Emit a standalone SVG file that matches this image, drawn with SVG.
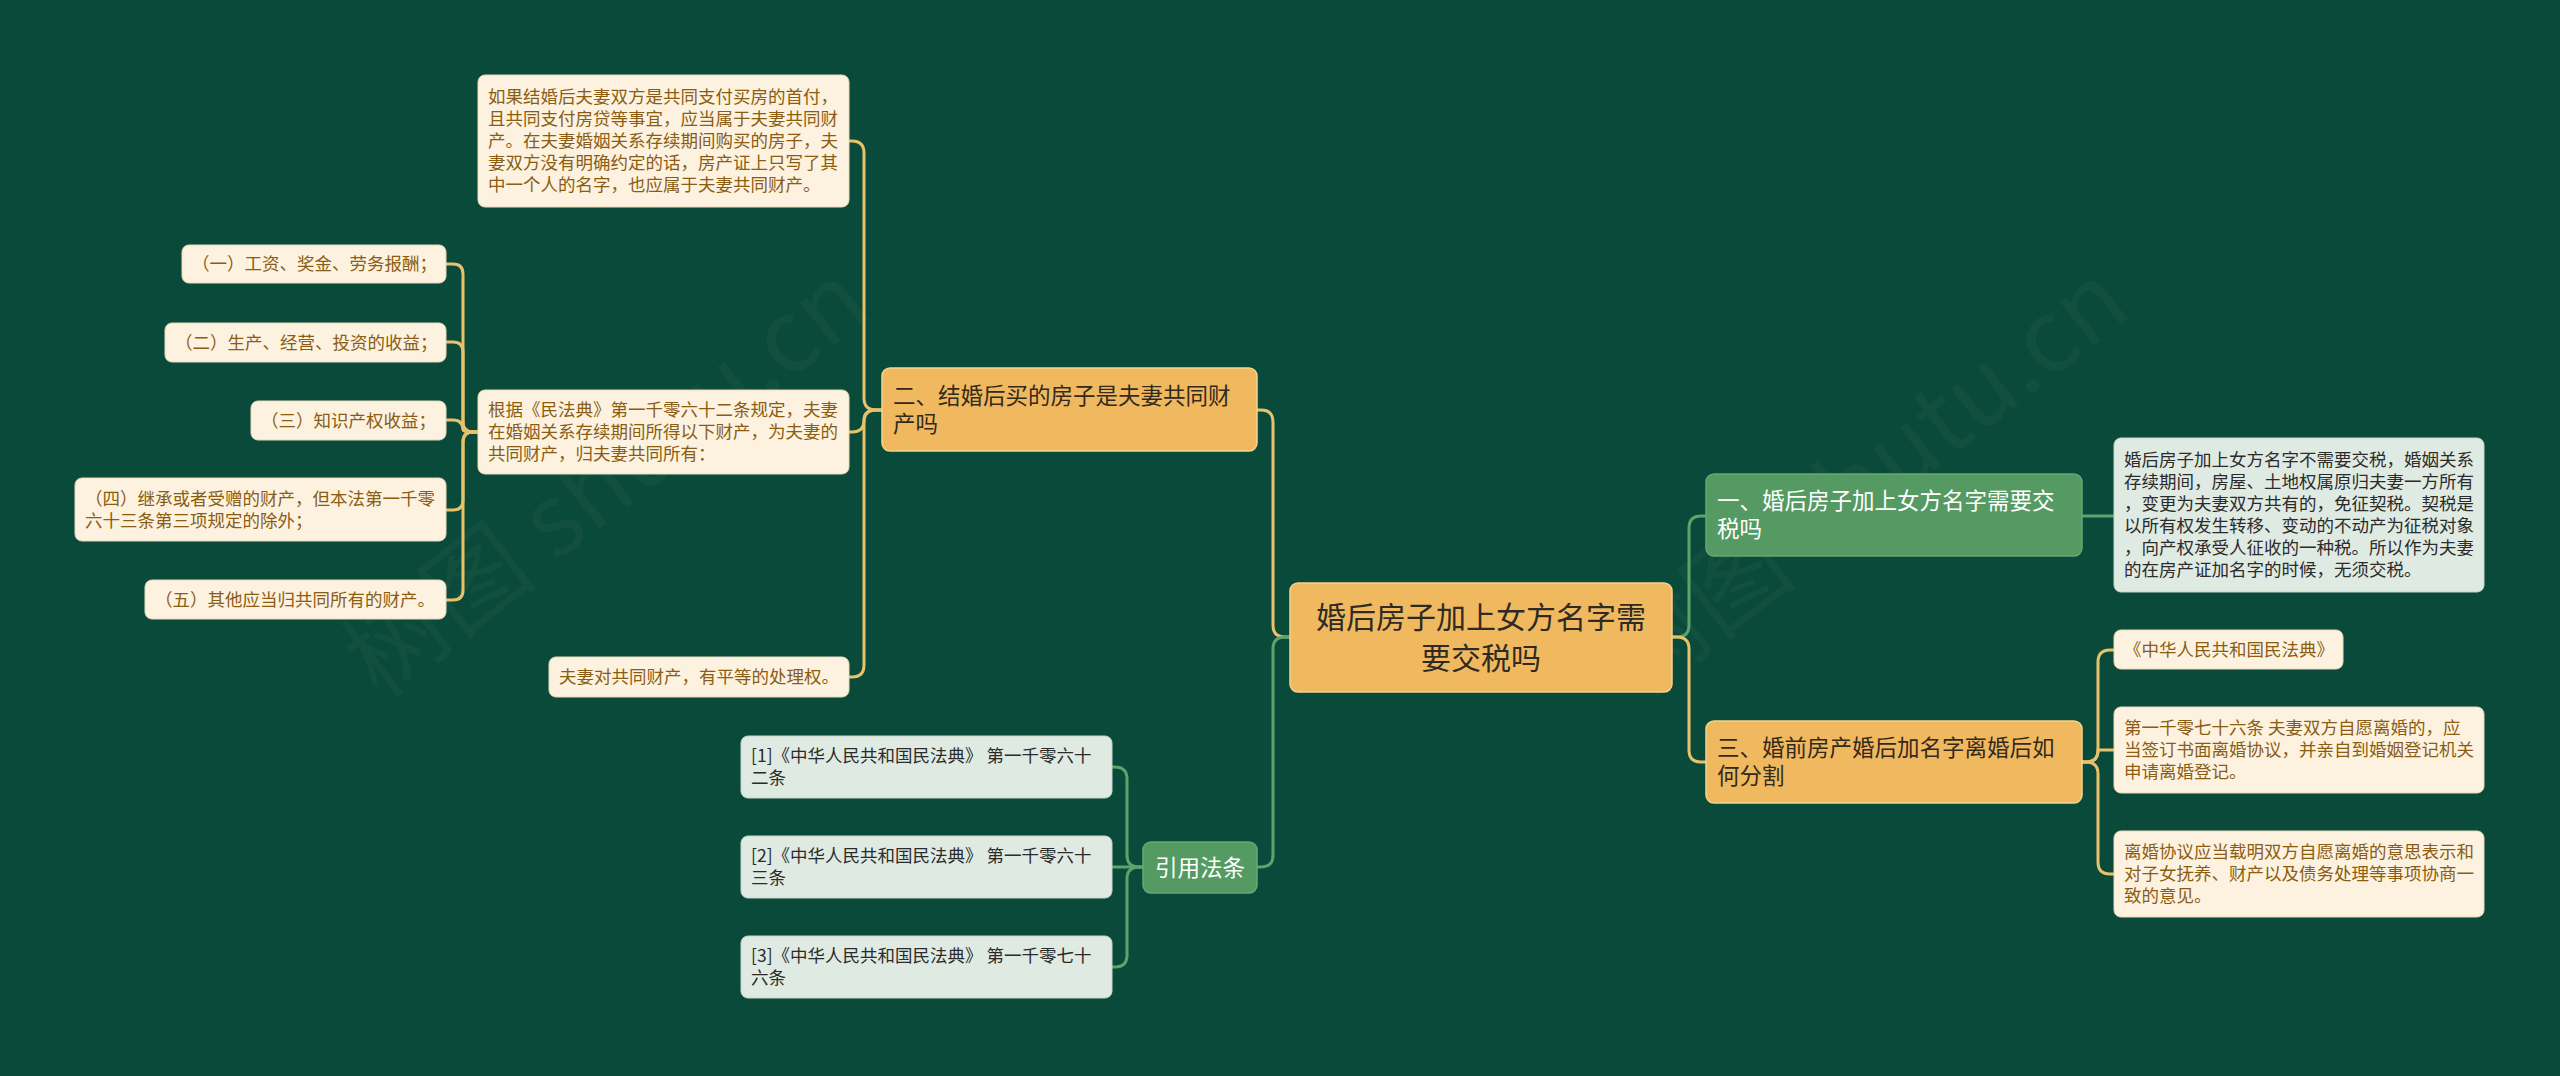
<svg xmlns="http://www.w3.org/2000/svg" width="2560" height="1076" viewBox="0 0 2560 1076">
<style>
text{font-family:"Noto Sans CJK SC","Noto Sans",sans-serif}
.gold{fill:none;stroke:#e8c26a;stroke-width:3}
.grn{fill:none;stroke:#5ca36c;stroke-width:3}
.orange{fill:#f0b95f;stroke:#f6d38a;stroke-width:1.5}
.l2g{fill:#559a63;stroke:#67a873;stroke-width:1.5}
.cream{fill:#fdf2e0;stroke:#e9d9b8;stroke-width:1}
.lgreen{fill:#dfeae2;stroke:#c6d6ca;stroke-width:1}
.tc{font-size:17.5px;fill:#8a5d12}
.tg{font-size:17.5px;fill:#2b2b2b}
.t2{font-size:22.5px;fill:#332a1c}
.t2w{font-size:22.5px;fill:#ffffff}
.tr{font-size:30px;fill:#2f2a22;text-anchor:middle}
.wm{font-size:100px;fill:#c8b890;opacity:0.045}
</style>
<rect x="0" y="0" width="2560" height="1076" fill="#0a4a3a"/>

<g id="watermarks">
<text class="wm" transform="translate(380 700) rotate(-38)">树图 shutu.cn</text>
<text class="wm" transform="translate(1640 700) rotate(-38)">树图 shutu.cn</text>
</g>

<g id="connectors">
<path class="gold" d="M1290,637 H1285 Q1273,637 1273,625 V422 Q1273,410 1261,410 H1257"/>
<path class="grn" d="M1290,637 H1285 Q1273,637 1273,649 V855 Q1273,867 1261,867 H1257"/>
<path class="grn" d="M1672,637 H1677 Q1689,637 1689,625 V528 Q1689,516 1701,516 H1706"/>
<path class="gold" d="M1672,637 H1677 Q1689,637 1689,649 V750 Q1689,762 1701,762 H1706"/>
<path class="grn" d="M2082,516 H2114"/>
<path class="gold" d="M2082,762 H2086 Q2098,762 2098,750 V662 Q2098,650 2110,650 H2114"/>
<path class="gold" d="M2082,762 H2086 Q2098,762 2098,750 H2114"/>
<path class="gold" d="M2082,762 H2086 Q2098,762 2098,774 V862 Q2098,874 2110,874 H2114"/>
<path class="gold" d="M882,410 H876 Q864,410 864,398 V153 Q864,141 852,141 H849"/>
<path class="gold" d="M882,410 H876 Q864,410 864,420 Q864,432 852,432 H849"/>
<path class="gold" d="M882,410 H876 Q864,410 864,422 V665 Q864,677 852,677 H849"/>
<path class="gold" d="M478,432 H473 Q463,432 463,422 V274 Q463,264 453,264 H446"/>
<path class="gold" d="M478,432 H473 Q463,432 463,422 V352 Q463,342 453,342 H446"/>
<path class="gold" d="M478,432 H473 Q463,432 463,430 Q463,420 453,420 H446"/>
<path class="gold" d="M478,432 H473 Q463,432 463,442 V500 Q463,510 453,510 H446"/>
<path class="gold" d="M478,432 H473 Q463,432 463,442 V590 Q463,600 453,600 H446"/>
<path class="grn" d="M1143,867 H1139 Q1127,867 1127,855 V779 Q1127,767 1115,767 H1112"/>
<path class="grn" d="M1143,867 H1112"/>
<path class="grn" d="M1143,867 H1139 Q1127,867 1127,879 V955 Q1127,967 1115,967 H1112"/>
</g>

<g id="root">
<rect class="orange" x="1290" y="583" width="382" height="109" rx="8"/>
<text class="tr" x="1481" y="627.5">婚后房子加上女方名字需</text>
<text class="tr" x="1481" y="668.5">要交税吗</text>
</g>

<g id="n2">
<rect class="orange" x="882" y="368" width="375" height="83" rx="8"/>
<text class="t2" x="893" y="404">二、结婚后买的房子是夫妻共同财</text>
<text class="t2" x="893" y="432">产吗</text>
</g>

<g id="n1">
<rect class="l2g" x="1706" y="474" width="376" height="82" rx="8"/>
<text class="t2w" x="1717" y="509">一、婚后房子加上女方名字需要交</text>
<text class="t2w" x="1717" y="537">税吗</text>
</g>

<g id="n3">
<rect class="orange" x="1706" y="721" width="376" height="82" rx="8"/>
<text class="t2" x="1717" y="756">三、婚前房产婚后加名字离婚后如</text>
<text class="t2" x="1717" y="784">何分割</text>
</g>

<g id="ncite">
<rect class="l2g" x="1143" y="842" width="114" height="51" rx="8"/>
<text class="t2w" x="1200" y="875.5" text-anchor="middle">引用法条</text>
</g>

<g id="leafA">
<rect class="cream" x="478" y="75" width="371" height="132" rx="7"/>
<text class="tc" x="488" y="103">如果结婚后夫妻双方是共同支付买房的首付，</text>
<text class="tc" x="488" y="125">且共同支付房贷等事宜，应当属于夫妻共同财</text>
<text class="tc" x="488" y="147">产。在夫妻婚姻关系存续期间购买的房子，夫</text>
<text class="tc" x="488" y="169">妻双方没有明确约定的话，房产证上只写了其</text>
<text class="tc" x="488" y="191">中一个人的名字，也应属于夫妻共同财产。</text>
</g>

<g id="leafB">
<rect class="cream" x="478" y="390" width="371" height="84" rx="7"/>
<text class="tc" x="488" y="416">根据《民法典》第一千零六十二条规定，夫妻</text>
<text class="tc" x="488" y="438">在婚姻关系存续期间所得以下财产，为夫妻的</text>
<text class="tc" x="488" y="460">共同财产，归夫妻共同所有：</text>
</g>

<g id="leafC">
<rect class="cream" x="549" y="657" width="300" height="40" rx="7"/>
<text class="tc" x="559" y="683">夫妻对共同财产，有平等的处理权。</text>
</g>

<g id="b1">
<rect class="cream" x="182" y="245" width="264" height="38" rx="7"/>
<text class="tc" x="192" y="270">（一）工资、奖金、劳务报酬；</text>
</g>
<g id="b2">
<rect class="cream" x="165" y="323" width="281" height="39" rx="7"/>
<text class="tc" x="175" y="348.5">（二）生产、经营、投资的收益；</text>
</g>
<g id="b3">
<rect class="cream" x="251" y="401" width="195" height="39" rx="7"/>
<text class="tc" x="261" y="426.5">（三）知识产权收益；</text>
</g>
<g id="b4">
<rect class="cream" x="75" y="478" width="371" height="63" rx="7"/>
<text class="tc" x="85" y="504.5">（四）继承或者受赠的财产，但本法第一千零</text>
<text class="tc" x="85" y="526.5">六十三条第三项规定的除外；</text>
</g>
<g id="b5">
<rect class="cream" x="145" y="580" width="301" height="39" rx="7"/>
<text class="tc" x="155" y="605.5">（五）其他应当归共同所有的财产。</text>
</g>

<g id="r1">
<rect class="lgreen" x="2114" y="438" width="370" height="154" rx="7"/>
<text class="tg" x="2124" y="466">婚后房子加上女方名字不需要交税，婚姻关系</text>
<text class="tg" x="2124" y="488">存续期间，房屋、土地权属原归夫妻一方所有</text>
<text class="tg" x="2124" y="510">，变更为夫妻双方共有的，免征契税。契税是</text>
<text class="tg" x="2124" y="532">以所有权发生转移、变动的不动产为征税对象</text>
<text class="tg" x="2124" y="554">，向产权承受人征收的一种税。所以作为夫妻</text>
<text class="tg" x="2124" y="576">的在房产证加名字的时候，无须交税。</text>
</g>

<g id="r3a">
<rect class="cream" x="2114" y="630" width="229" height="39" rx="7"/>
<text class="tc" x="2124" y="655.5">《中华人民共和国民法典》</text>
</g>
<g id="r3b">
<rect class="cream" x="2114" y="707" width="370" height="86" rx="7"/>
<text class="tc" x="2124" y="734">第一千零七十六条 夫妻双方自愿离婚的，应</text>
<text class="tc" x="2124" y="756">当签订书面离婚协议，并亲自到婚姻登记机关</text>
<text class="tc" x="2124" y="778">申请离婚登记。</text>
</g>
<g id="r3c">
<rect class="cream" x="2114" y="831" width="370" height="86" rx="7"/>
<text class="tc" x="2124" y="858">离婚协议应当载明双方自愿离婚的意思表示和</text>
<text class="tc" x="2124" y="880">对子女抚养、财产以及债务处理等事项协商一</text>
<text class="tc" x="2124" y="902">致的意见。</text>
</g>

<g id="c1">
<rect class="lgreen" x="741" y="736" width="371" height="62" rx="7"/>
<text class="tg" x="751" y="762">[1]《中华人民共和国民法典》 第一千零六十</text>
<text class="tg" x="751" y="784">二条</text>
</g>
<g id="c2">
<rect class="lgreen" x="741" y="836" width="371" height="62" rx="7"/>
<text class="tg" x="751" y="862">[2]《中华人民共和国民法典》 第一千零六十</text>
<text class="tg" x="751" y="884">三条</text>
</g>
<g id="c3">
<rect class="lgreen" x="741" y="936" width="371" height="62" rx="7"/>
<text class="tg" x="751" y="962">[3]《中华人民共和国民法典》 第一千零七十</text>
<text class="tg" x="751" y="984">六条</text>
</g>
</svg>
